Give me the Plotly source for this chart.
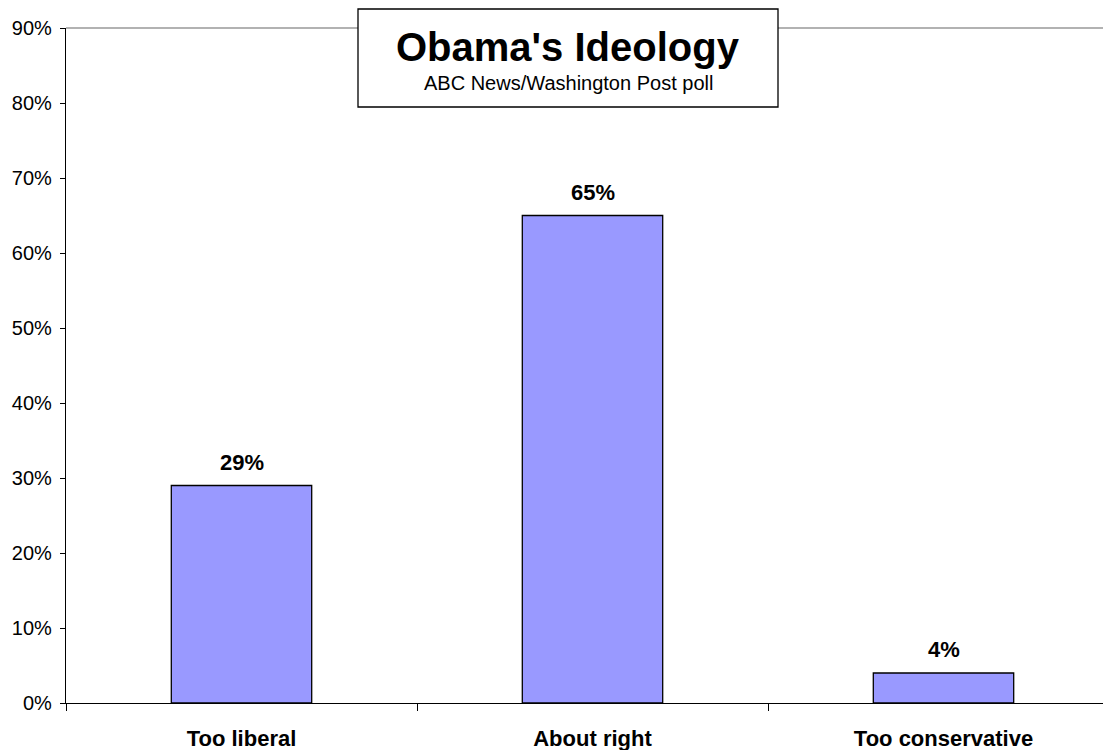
import plotly.graph_objects as go

categories = ["Too liberal", "About right", "Too conservative"]
values = [0.29, 0.65, 0.04]
y_ticks = [0, 0.1, 0.2, 0.3, 0.4, 0.5, 0.6, 0.7, 0.8, 0.9]
y_tick_labels = ["0%", "10%", "20%", "30%", "40%", "50%", "60%", "70%", "80%", "90%"]
title_text = "Obama's Ideology"
subtitle_text = "ABC News/Washington Post poll"

OFF = 8  # page body margin
W, H = 1111 - OFF, 750 - OFF
L, R, T = 66 - OFF, 0, 28 - OFF
B = H - (703 - OFF)
pw, ph = W - L - R, H - T - B

def px_x(px):
    return (px - OFF - L) / pw

def px_y(py):
    return (H - B - (py - OFF)) / ph

fig = go.Figure()
fig.add_trace(go.Bar(
    x=categories, y=values, width=0.4,
    marker=dict(color="#9999FF", line=dict(color="black", width=1.3)),
    hoverinfo="x+y",
))

cat_w = 351
label_annotations = [
    dict(x=c, y=v, xref="x", yref="y", text="<b>%d%%</b>" % round(v * 100),
         showarrow=False, xanchor="center", yanchor="bottom", yshift=9,
         font=dict(family="Arial, Liberation Sans", size=22, color="black"))
    for c, v in zip(categories, values)
]

fig.update_layout(
    width=W, height=H,
    margin=dict(l=L, r=R, t=T, b=B),
    plot_bgcolor="white", paper_bgcolor="white",
    showlegend=False,
    font=dict(family="Arial, Liberation Sans", color="black"),
    xaxis=dict(
        type="category", range=[-0.5, -0.5 + pw / cat_w],
        showline=True, linecolor="black", linewidth=1.3,
        ticks="outside", tickson="boundaries", ticklen=7, tickcolor="black", tickwidth=1,
        tickfont=dict(size=22, family="Arial, Liberation Sans", color="black"),
        tickvals=categories, ticktext=["<b>%s</b>" % c for c in categories],
        ticklabelstandoff=15,
        showgrid=False, zeroline=False,
    ),
    yaxis=dict(
        range=[0, 0.9], tickvals=y_ticks, ticktext=y_tick_labels,
        showline=True, linecolor="black", linewidth=1.3,
        ticks="outside", ticklen=5, tickcolor="black", tickwidth=1,
        tickfont=dict(size=20, family="Arial, Liberation Sans", color="black"),
        ticklabelstandoff=4,
        showgrid=False, zeroline=False,
    ),
    shapes=[
        dict(type="line", xref="paper", yref="paper", x0=0, x1=1, y0=1, y1=1,
             line=dict(color="#999999", width=1.3), layer="below"),
        dict(type="rect", xref="paper", yref="paper",
             x0=px_x(358), x1=px_x(778), y0=px_y(107), y1=px_y(9),
             fillcolor="white", line=dict(color="black", width=1.3), layer="above"),
    ],
    annotations=label_annotations + [
        dict(text="<b>%s</b>" % title_text, xref="paper", yref="paper",
             x=px_x(568), y=px_y(47), xanchor="center", yanchor="middle",
             showarrow=False, font=dict(size=40, family="Arial, Liberation Sans", color="black")),
        dict(text=subtitle_text, xref="paper", yref="paper",
             x=px_x(568), y=px_y(83), xanchor="center", yanchor="middle",
             showarrow=False, font=dict(size=20, family="Arial, Liberation Sans", color="black")),
    ],
)

fig.write_html("out.html")
